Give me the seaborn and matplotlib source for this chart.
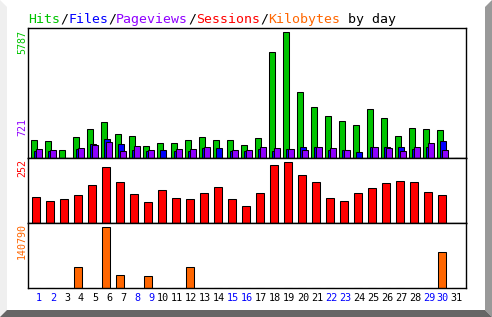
import matplotlib
matplotlib.use("Agg")
import matplotlib.pyplot as plt
import seaborn as sns
import pandas as pd
from matplotlib.patches import Polygon

# ---------------- data ----------------
days = list(range(1, 32))
hits = [815, 769, 354, 953, 1321, 1644, 1091, 999, 539, 677, 690, 815, 953, 815, 815,
        585, 907, 4866, 5787, 3025, 2334, 1920, 1690, 1505, 2242, 1828, 999, 1367, 1321, 1275, 0]
files = [336, 320, 0, 428, 658, 889, 658, 382, 320, 382, 320, 336, 474, 474, 336,
         320, 428, 336, 428, 506, 506, 382, 382, 290, 506, 506, 506, 428, 506, 783, 0]
pageviews = [428, 382, 0, 474, 599, 721, 322, 552, 382, 0, 428, 428, 506, 0, 382,
             382, 506, 474, 428, 382, 506, 460, 368, 0, 506, 474, 322, 506, 700, 368, 0]
sessions = [107, 91, 99, 116, 157, 231, 169, 120, 87, 136, 103, 99, 124, 149, 99,
            70, 124, 240, 252, 198, 169, 103, 91, 124, 145, 165, 174, 169, 128, 116, 0]
kilobytes = [0, 0, 0, 48220, 0, 140790, 29850, 0, 27550, 0, 0, 48220, 0, 0, 0,
             0, 0, 0, 0, 0, 0, 0, 0, 0, 0, 0, 0, 0, 0, 82660, 0]
weekend_days = [1, 2, 8, 9, 15, 16, 22, 23, 29, 30]
max_labels = {"hits": "5787", "pageviews": "721", "sessions": "252", "kilobytes": "140790"}
title_parts = ["Hits", "/", "Files", "/", "Pageviews", "/", "Sessions", "/", "Kilobytes", " by day"]

# ---------------- style ----------------
sns.set_style("white")
MONO = ["DejaVu Sans Mono"]
plt.rcParams["font.family"] = MONO

GREEN = "#00C400"
BLUE = "#0000FF"
PURPLE = "#9000FF"
RED = "#FF0000"
ORANGE = "#FF6600"
title_colors = [GREEN, "black", BLUE, "black", PURPLE, "black", RED, "black", ORANGE, "black"]

W, H = 492, 317
fig = plt.figure(figsize=(W / 100, H / 100), dpi=100)
fig.patch.set_facecolor("white")

def fx(px):
    return px / W

def fy(py):
    return 1 - py / H

# 3D frame
fig.patches.append(Polygon([(fx(0), fy(0)), (fx(7), fy(7)), (fx(7), fy(310)), (fx(0), fy(317))],
                           closed=True, transform=fig.transFigure, facecolor="#EFEFEF", edgecolor="none"))
fig.patches.append(Polygon([(fx(485), fy(7)), (fx(492), fy(0)), (fx(492), fy(317)), (fx(485), fy(310))],
                           closed=True, transform=fig.transFigure, facecolor="#999999", edgecolor="none"))
fig.patches.append(Polygon([(fx(0), fy(317)), (fx(7), fy(310)), (fx(485), fy(310)), (fx(492), fy(317))],
                           closed=True, transform=fig.transFigure, facecolor="#666666", edgecolor="none"))

L, R = 28, 466
UNIT = 14.0  # px per day
XMAX = (R - L) / UNIT

def make_ax(top, bottom):
    return fig.add_axes([fx(L), fy(bottom), (R - L) / W, (bottom - top) / H])

ax1 = make_ax(28, 158)
ax2 = make_ax(158, 223)
ax3 = make_ax(223, 288)

LW = 0.75
df = pd.DataFrame({"day": days, "hits": hits, "files": files, "pageviews": pageviews,
                   "sessions": sessions, "kilobytes": kilobytes})

def bars(ax, col, offset, width, color):
    d = pd.DataFrame({"x": df["day"] - 1 + offset, "y": df[col]})
    sns.barplot(data=d, x="x", y="y", native_scale=True, width=width, color=color,
                edgecolor="black", linewidth=LW, errorbar=None, ax=ax, saturation=1)

bars(ax1, "hits", 0.45, 0.43, GREEN)
bars(ax1, "files", 0.645, 0.43, BLUE)
bars(ax1, "pageviews", 0.81, 0.43, PURPLE)
bars(ax2, "sessions", 0.60, 0.58, RED)
bars(ax3, "kilobytes", 0.60, 0.58, ORANGE)

ax1.set_ylim(0, max(hits) * 130 / 125.7)
ax2.set_ylim(0, max(sessions) * 65 / 61)
ax3.set_ylim(0, max(kilobytes) * 65 / 61.3)

for ax in (ax1, ax2, ax3):
    ax.set_xlim(0, XMAX)
    ax.set_facecolor("white")
    ax.set_xlabel("")
    ax.set_ylabel("")
    ax.set_yticks([])
    for s in ax.spines.values():
        s.set_visible(True)
        s.set_color("black")
        s.set_linewidth(1.0)
for ax in (ax1, ax2):
    ax.set_xticks([])

tick_pos = [d - 1 + (0.79 if d < 10 else 0.64) for d in days]
ax3.set_xticks(tick_pos)
ax3.set_xticklabels([str(d) for d in days])
ax3.tick_params(axis="x", length=0, pad=3.5, labelsize=7.3)
for lab, d in zip(ax3.get_xticklabels(), days):
    lab.set_color(BLUE if d in weekend_days else "black")
    lab.set_family(MONO)

# title
TS = 9.57
pos = 0
for part, col in zip(title_parts, title_colors):
    fig.text(fx(L + 8 * pos), fy(23), part, color=col, fontsize=TS, family=MONO,
             ha="left", va="baseline")
    pos += len(part)

# rotated max labels
for key, col, top in [("hits", GREEN, 30), ("pageviews", PURPLE, 118),
                      ("sessions", RED, 159), ("kilobytes", ORANGE, 223)]:
    fig.text(fx(22), fy(top), max_labels[key], color=col, fontsize=7.2, family=MONO,
             rotation=90, ha="center", va="top")

fig.savefig("out.png", dpi=100, facecolor="white")
